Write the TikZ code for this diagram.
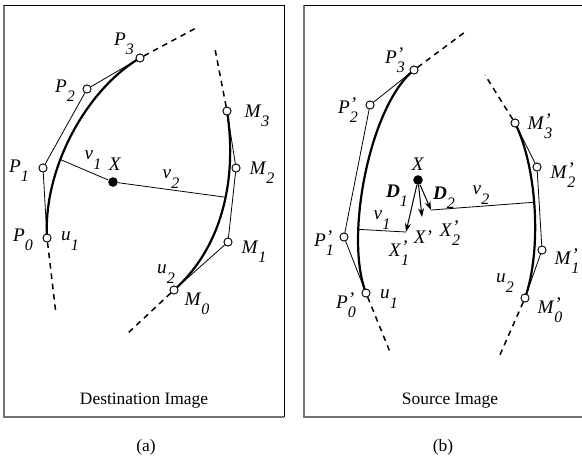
\documentclass[tikz,border=0pt]{standalone}
\usepackage{fontspec}
\setmainfont{Liberation Serif}
\usetikzlibrary{arrows.meta,positioning}
\newcommand{\ptlab}[3]{\textit{#1}\rlap{\raisebox{0.35ex}{\textit{#3}}}\raisebox{-4.6pt}{\fontsize{8}{9}\selectfont\textit{#2}}}
\tikzset{
  ctrl/.style={draw, circle, fill=white, inner sep=0pt, minimum size=4pt, line width=0.4pt},
  dot/.style={fill, circle, inner sep=0pt, minimum size=4.8pt},
  poly/.style={line width=0.4pt},
  curve/.style={line width=1.1pt},
  ext/.style={line width=0.75pt, dash pattern=on 2.8pt off 2.4pt},
  vec/.style={line width=0.5pt, -{Stealth[length=4.4pt,width=3pt]}},
  lab/.style={font=\fontsize{9.6}{11}\selectfont, inner sep=0pt},
  txt/.style={font=\fontsize{8.7}{10}\selectfont, inner sep=0pt},
}
\begin{document}
\begin{tikzpicture}[x=0.5pt, y=-0.5pt]
  \useasboundingbox (0,0) rectangle (582,463);

  % frames
  \draw[black!55, line width=0.6pt] (284,417) -- (4,417) -- (4,5);
  \draw[black, line width=0.5pt] (4,5) -- (284,5) -- (284,417);
  \draw[black!55, line width=0.6pt] (583,417) -- (304,417) -- (304,5);
  \draw[black, line width=0.5pt] (304,5) -- (583,5);

  % (a) destination image
  \node[ctrl] (p0) at (47,238) {};
  \node[ctrl] (p1) at (43,168) {};
  \node[ctrl] (p2) at (87,89) {};
  \node[ctrl] (p3) at (140,58) {};
  \node[ctrl] (m0) at (174,290) {};
  \node[ctrl] (m1) at (228,242) {};
  \node[ctrl] (m2) at (236,168) {};
  \node[ctrl] (m3) at (227,111) {};
  \node[dot] (dx) at (113,182) {};
  \coordinate (dp3e) at (196,28);
  \coordinate (dm3e) at (215,49);
  \coordinate (dp0e) at (56,314);
  \coordinate (dm0e) at (128,333);

  \draw[poly] (p0) -- (p1) -- (p2) -- (p3);
  \draw[poly] (m0) -- (m1) -- (m2) -- (m3);
  \draw[curve] (p0.center) .. controls (p1.center) and (p2.center) .. coordinate[pos=0.37] (dc1) (p3.center);
  \draw[curve] (m0.center) .. controls (m1.center) and (m2.center) .. coordinate[pos=0.535] (dc2) (m3.center);
  \draw[ext] (p3) -- (dp3e);
  \draw[ext] (m3) -- (dm3e);
  \draw[ext] (p0) -- (dp0e);
  \draw[ext] (m0) -- (dm0e);
  \draw[poly] (dc1) -- (dx) -- (dc2);
  \foreach \n in {p0,p1,p2,p3,m0,m1,m2,m3} \node[ctrl] at (\n) {};

  \node[lab] (lp3) at (124,44) {\ptlab{P}{3}{}};
  \node[lab] (lp2) at (65,91) {\ptlab{P}{2}{}};
  \node[lab] (lp1) at (19,171) {\ptlab{P}{1}{}};
  \node[lab] (lp0) at (23,240) {\ptlab{P}{0}{}};
  \node[lab] (lu1) at (70,241) {\ptlab{u}{1}{}};
  \node[lab] (lv1) at (93,160) {\ptlab{v}{1}{}};
  \node[lab] (lx) at (115,164) {\textit{X}};
  \node[lab] (lv2) at (171,179) {\ptlab{v}{2}{}};
  \node[lab] (lm3) at (257,116) {\ptlab{M}{3}{}};
  \node[lab] (lm2) at (262,173) {\ptlab{M}{2}{}};
  \node[lab] (lm1) at (254,252) {\ptlab{M}{1}{}};
  \node[lab] (lm0) at (197,304) {\ptlab{M}{0}{}};
  \node[lab] (lu2) at (166,274) {\ptlab{u}{2}{}};
  \node[txt] (dtitle) at (144,401) {Destination Image};
  \node[txt] (capa) at (146,447) {(a)};

  % (b) source image
  \node[ctrl] (sp0) at (366,293) {};
  \node[ctrl] (sp1) at (344,237) {};
  \node[ctrl] (sp2) at (370,105) {};
  \node[ctrl] (sp3) at (414,70) {};
  \node[ctrl] (sm0) at (525,298) {};
  \node[ctrl] (sm1) at (542,250) {};
  \node[ctrl] (sm2) at (537,167) {};
  \node[ctrl] (sm3) at (515,123) {};
  \node[dot] (sx) at (418,180) {};
  \coordinate (sx1) at (406,232);
  \coordinate (sxp) at (422,217);
  \coordinate (sx2) at (431,210);
  \coordinate (sp3e) at (465,32);
  \coordinate (sm3e) at (485,75);
  \coordinate (sp0e) at (390,352);
  \coordinate (sm0e) at (499,357);

  \draw[poly] (sp0) -- (sp1) -- (sp2) -- (sp3);
  \draw[poly] (sm0) -- (sm1) -- (sm2) -- (sm3);
  \draw[curve] (sp0.center) .. controls (sp1.center) and (sp2.center) .. coordinate[pos=0.29] (sc1) (sp3.center);
  \draw[curve] (sm0.center) .. controls (sm1.center) and (sm2.center) .. coordinate[pos=0.535] (sc2) (sm3.center);
  \draw[ext] (sp3) -- (sp3e);
  \draw[ext] (sm3) -- (sm3e);
  \draw[ext] (sp0) -- (sp0e);
  \draw[ext] (sm0) -- (sm0e);
  \draw[poly] (sc1) -- (sx1);
  \draw[poly] (sx2) -- (sc2);
  \draw[vec] (sx) -- (sx1);
  \draw[vec] (sx) -- (sxp);
  \draw[vec] (sx) -- (sx2);
  \foreach \n in {sp0,sp1,sp2,sp3,sm0,sm1,sm2,sm3} \node[ctrl] at (\n) {};

  \node[lab] (lsp3) at (395,60) {\ptlab{P}{3}{’}};
  \node[lab] (lsp2) at (348,110) {\ptlab{P}{2}{’}};
  \node[lab] (lsp1) at (324,243) {\ptlab{P}{1}{’}};
  \node[lab] (lsp0) at (346,305) {\ptlab{P}{0}{’}};
  \node[lab] (lsu1) at (389,299) {\ptlab{u}{1}{}};
  \node[lab] (lsm3) at (540,126) {\ptlab{M}{3}{’}};
  \node[lab] (lsm2) at (563,175) {\ptlab{M}{2}{’}};
  \node[lab] (lsm1) at (567,261) {\ptlab{M}{1}{’}};
  \node[lab] (lsm0) at (550,310) {\ptlab{M}{0}{’}};
  \node[lab] (lsu2) at (505,283) {\ptlab{u}{2}{}};
  \node[lab] (lsx) at (418,164) {\textit{X}};
  \node[lab] (ld1) at (397,196) {\ptlab{\textbf{D}}{1}{}};
  \node[lab] (ld2) at (444,198) {\ptlab{\textbf{D}}{2}{}};
  \node[lab] (lsv1) at (382,220) {\ptlab{v}{1}{}};
  \node[lab] (lsv2) at (481,195) {\ptlab{v}{2}{}};
  \node[lab] (lx1) at (399,253) {\ptlab{X}{1}{’}};
  \node[lab] (lxp) at (423,237) {\textit{X’}};
  \node[lab] (lx2) at (450,233) {\ptlab{X}{2}{’}};
  \node[txt] (stitle) at (450,401) {Source Image};
  \node[txt] (capb) at (443,447) {(b)};
\end{tikzpicture}
\end{document}
